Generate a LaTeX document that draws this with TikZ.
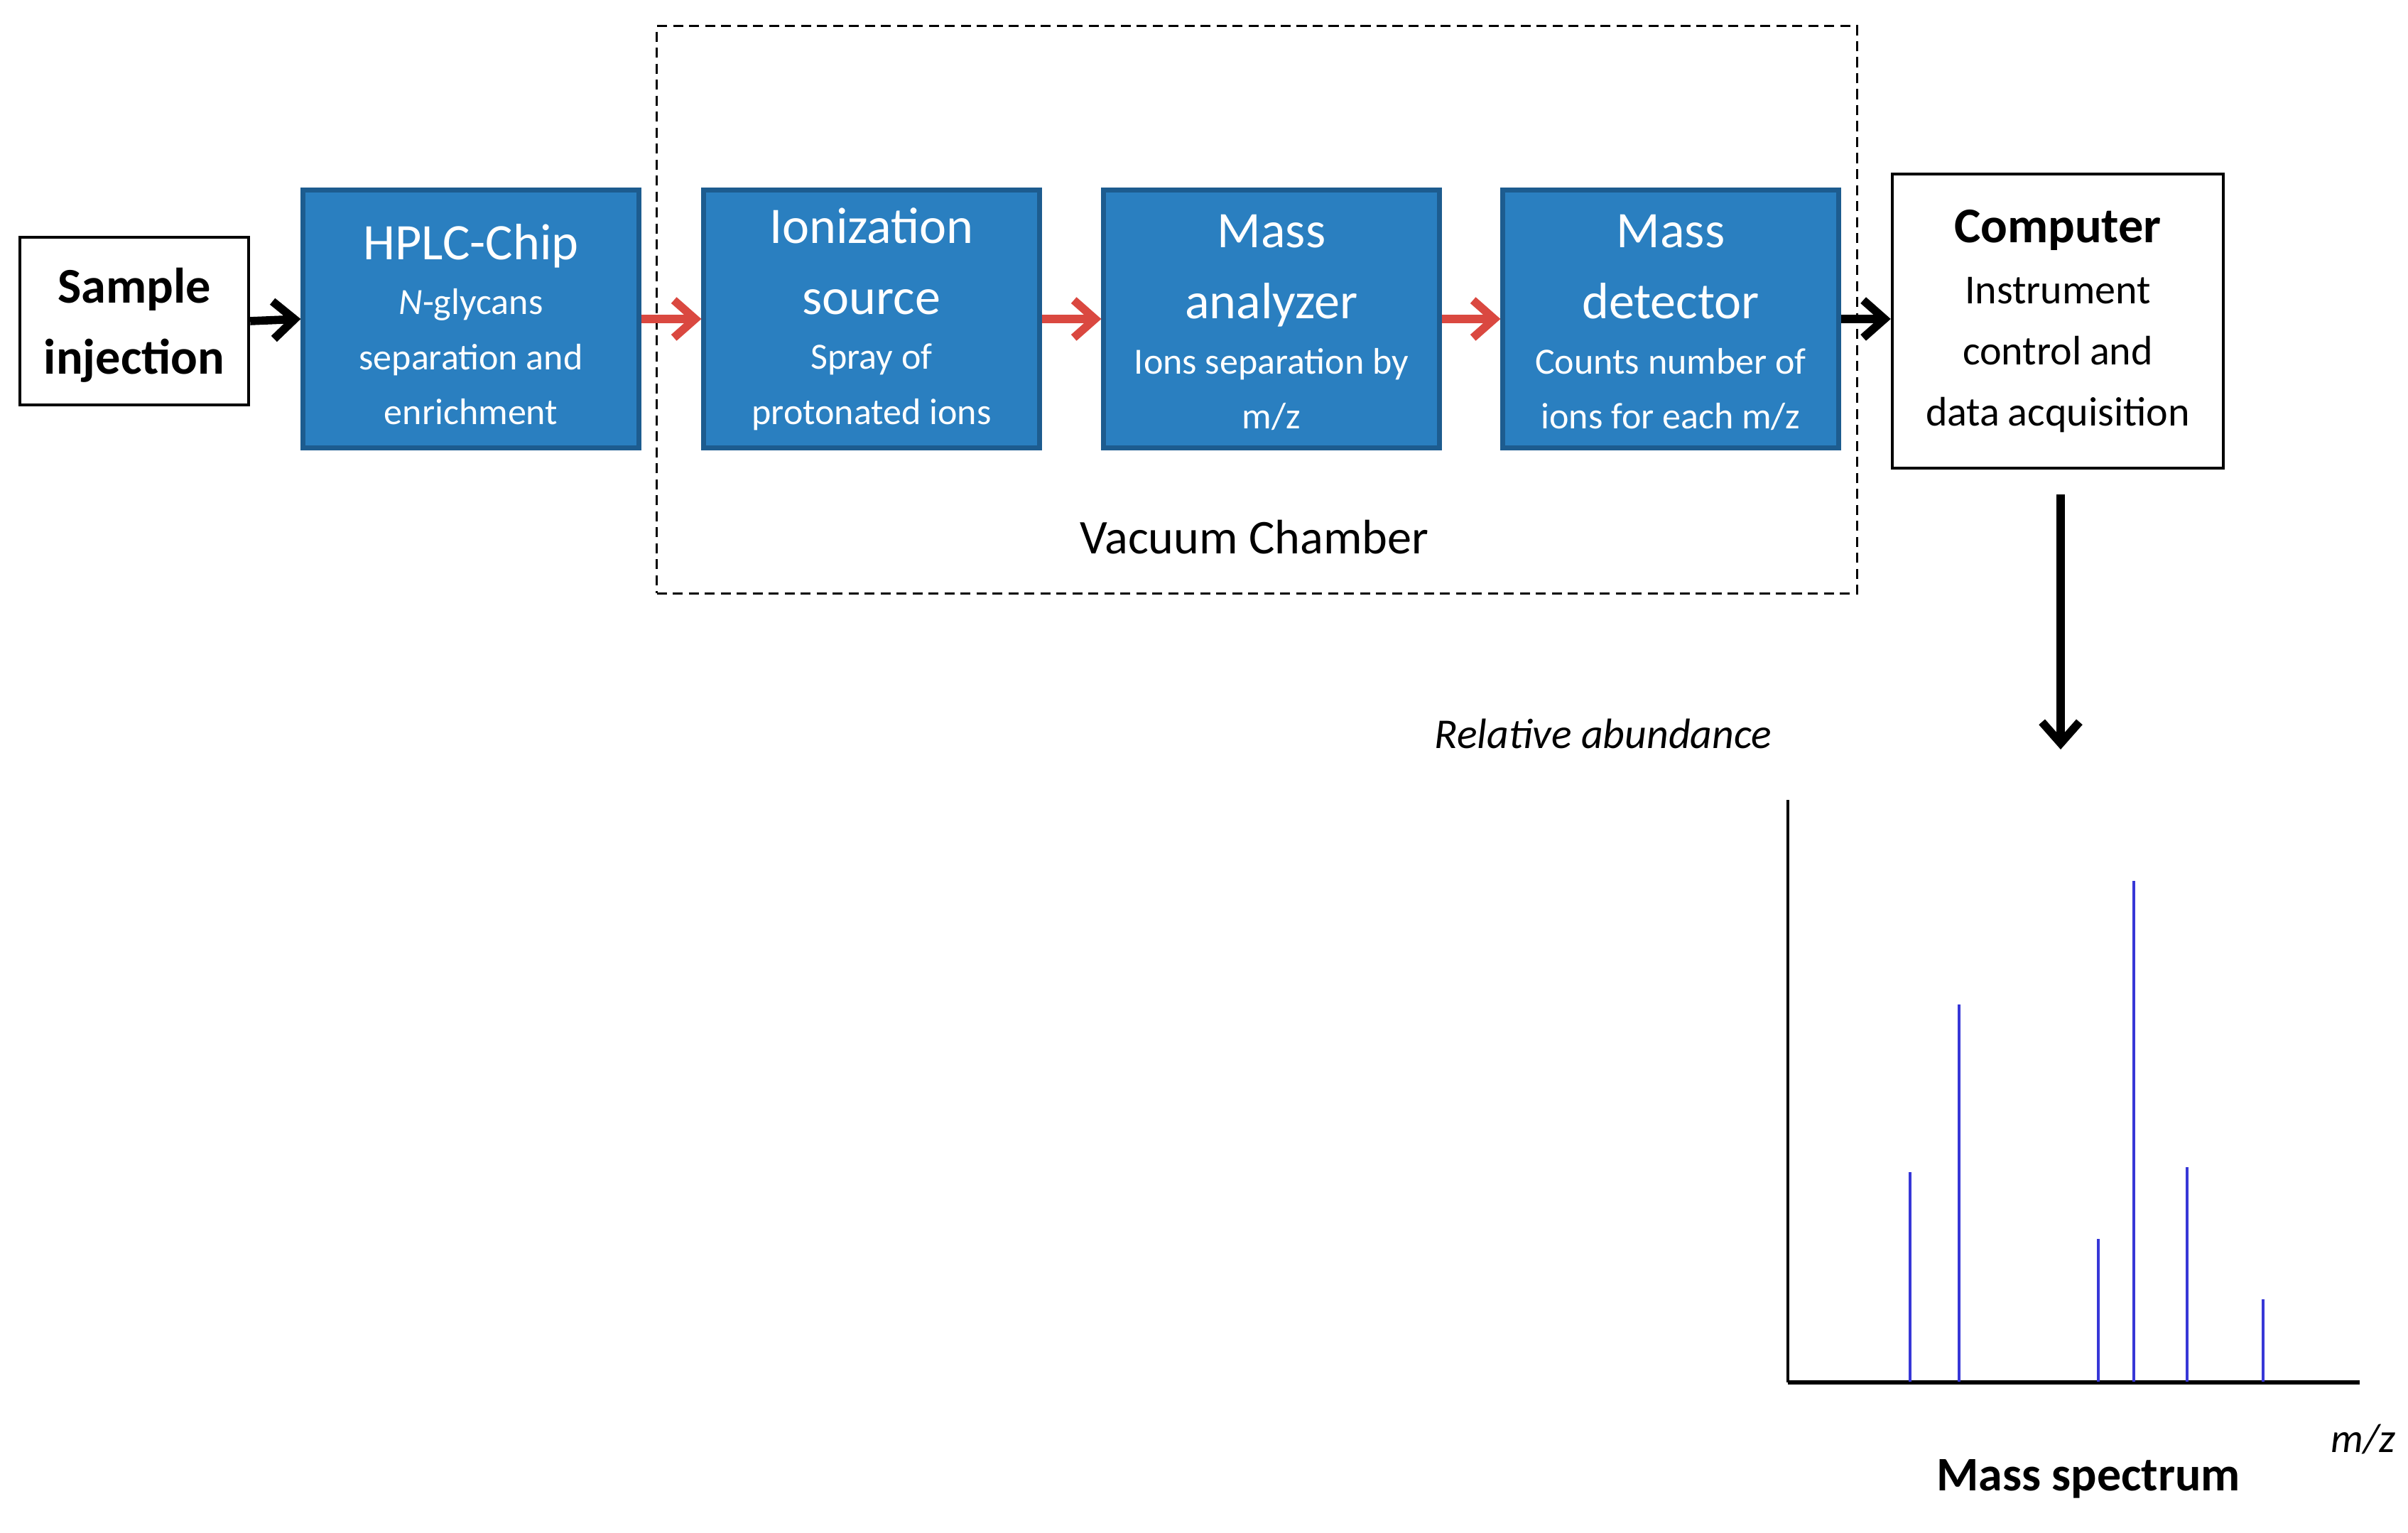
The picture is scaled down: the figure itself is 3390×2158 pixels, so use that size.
\documentclass[tikz,border=0pt]{standalone}
\usepackage{fontspec}
\setmainfont{Carlito}
\usetikzlibrary{arrows.meta}
\definecolor{boxfill}{RGB}{42,127,192}
\definecolor{boxedge}{RGB}{29,92,143}
\definecolor{arrred}{RGB}{218,72,64}
\definecolor{peakblue}{RGB}{55,55,215}
\newcommand\ttlfont{\fontsize{20.5pt}{28.5pt}\selectfont}
\newcommand\bdyfont{\fontsize{14.8pt}{22pt}\selectfont}
\tikzset{
  bluebox/.style={draw=boxedge, line width=2pt, fill=boxfill, text=white,
    minimum width=4.72cm, minimum height=3.62cm, text width=4.6cm,
    align=center, inner sep=0pt},
  whitebox/.style={draw=black, line width=1.2pt, fill=white, align=center, inner sep=0pt},
  dashbox/.style={draw=black, line width=0.9pt, dash pattern=on 4pt off 2.4pt,
    minimum width=16.89cm, minimum height=7.98cm, inner sep=0pt},
  conn/.style={line width=3.3pt, -{Straight Barb[length=8.5pt,width=15pt]}},
  redconn/.style={conn, draw=arrred},
  peak/.style={draw=peakblue, line width=1.1pt},
  axisline/.style={draw=black, line width=1.3pt}
}
\begin{document}
\begin{tikzpicture}[x=0.01cm, y=-0.01cm]
\useasboundingbox (0,0) rectangle (3390,2158);
% vacuum chamber
\node[dashbox] (vac) at (1769.5,436) {};
\node[font=\fontsize{19.4pt}{23pt}\selectfont] (vact) at (1766,756) {Vacuum Chamber};
% sample injection
\node[whitebox, minimum width=3.22cm, minimum height=2.36cm,
  font=\bfseries\fontsize{20pt}{28.5pt}\selectfont] (samp) at (189,452) {\rule{0pt}{17.5pt}Sample\\injection};
% blue boxes
\node[bluebox] (hplc) at (663,449) {{\ttlfont\rule{0pt}{18.5pt}HPLC-Chip\par}{\bdyfont\textit{N}-glycans\\separation and\\enrichment\par}};
\node[bluebox] (ion) at (1227,449) {{\ttlfont Ionization\\source\par}{\bdyfont Spray of\\protonated ions\par}};
\node[bluebox] (ana) at (1790,449) {{\ttlfont\rule{0pt}{16pt}Mass\\analyzer\par}{\bdyfont Ions separation by\\m/z\par}};
\node[bluebox] (det) at (2352,449) {{\ttlfont\rule{0pt}{16pt}Mass\\detector\par}{\bdyfont Counts number of\\ions for each m/z\par}};
% computer
\node[whitebox, minimum width=4.66cm, minimum height=4.14cm, text width=4.4cm] (comp) at (2897,452)
  {{\bfseries\fontsize{20pt}{24pt}\selectfont Computer\par}{\fontsize{16.5pt}{24.5pt}\selectfont Instrument\\control and\\data acquisition\par}};
% connectors
\draw[conn] (samp.east) -- (hplc.west);
\draw[redconn] (hplc.east) -- (ion.west);
\draw[redconn] (ion.east) -- (ana.west);
\draw[redconn] (ana.east) -- (det.west);
\draw[conn] (det.east) -- (det.east -| comp.west);
\coordinate (dstart) at (2901,696);
\coordinate (dend) at (2901,1055);
\draw[conn] (dstart) -- (dend);
% spectrum
\node[font=\itshape\fontsize{17pt}{20pt}\selectfont] (rela) at (2257,1033) {Relative abundance};
\coordinate (ytop) at (2517,1126);
\coordinate (orig) at (2517,1946);
\coordinate (xend) at (3322,1946);
\draw[axisline] (ytop) -- (orig);
\draw[axisline, line width=1.6pt] (orig) -- (xend);
\foreach \px/\py in {2689/1650, 2758/1414, 2954/1744, 3004/1240, 3079/1643, 3186/1829}
  \draw[peak] (\px,1945) -- (\px,\py);
\node[font=\itshape\fontsize{16.4pt}{20pt}\selectfont] (mz) at (3327,2026) {m/z};
\node[font=\bfseries\fontsize{19.3pt}{23pt}\selectfont] (mspec) at (2940,2082) {Mass spectrum};
\end{tikzpicture}
\end{document}
